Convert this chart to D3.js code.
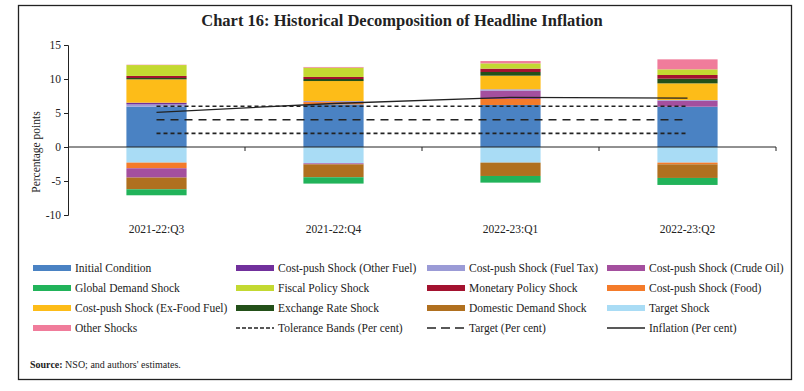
<!DOCTYPE html>
<html>
  <head>
    <meta charset="UTF-8" />
    <title>Chart 16</title>
    <style>
      body { margin: 0; background: #fff; }
      text { font-family: "Liberation Serif", serif; fill: #222; }
    </style>
    <script src="https://d3js.org/d3.v7.min.js"></script>
  </head>
  <body>
    <svg id="viz" width="804" height="391"></svg>
    <script>
      // quarters on the x axis
      var quarters = ["2021-22:Q3", "2021-22:Q4", "2022-23:Q1", "2022-23:Q2"];

      // shock contributions (percentage points)
      var initialCondition = [5.93, 6.27, 6.18, 5.93];
      var targetShock = [-2.3, -2.4, -2.3, -2.3];
      var foodShock = [-0.83, 0.34, 0.88, -0.25];
      var crudeOilShock = [-1.37, -0.15, 1.23, 0.88];
      var fuelTaxShock = [0.34, 0.15, 0.2, 0.1];
      var otherFuelShock = [0.25, 0, 0, 0];
      var domesticDemandShock = [-1.72, -1.9, -1.96, -2.0];
      var globalDemandShock = [-0.88, -0.93, -0.98, -1.03];
      var exFoodFuelShock = [3.43, 2.94, 2.0, 2.45];
      var exchangeRateShock = [0.2, 0.3, 0.54, 0.69];
      var monetaryPolicyShock = [0.3, 0.3, 0.49, 0.54];
      var fiscalPolicyShock = [1.6, 1.37, 0.78, 0.83];
      var otherShocks = [0.05, 0.1, 0.34, 1.47];

      // lines
      var inflation = [5.1, 6.4, 7.3, 7.2];
      var target = [4, 4, 4, 4];
      var upperBand = [6, 6, 6, 6];
      var lowerBand = [2, 2, 2, 2];

      var yTicks = [-10, -5, 0, 5, 10, 15];

      // name, values, colour (legend order)
      var series = [
        ["Initial Condition", initialCondition, "#4a82c3"],
        ["Cost-push Shock (Other Fuel)", otherFuelShock, "#71309c"],
        ["Cost-push Shock (Fuel Tax)", fuelTaxShock, "#9b9bd6"],
        ["Cost-push Shock (Crude Oil)", crudeOilShock, "#a44f9e"],
        ["Global Demand Shock", globalDemandShock, "#21b35a"],
        ["Fiscal Policy Shock", fiscalPolicyShock, "#c3d931"],
        ["Monetary Policy Shock", monetaryPolicyShock, "#a3122f"],
        ["Cost-push Shock (Food)", foodShock, "#f47b2a"],
        ["Cost-push Shock (Ex-Food Fuel)", exFoodFuelShock, "#fdbc18"],
        ["Exchange Rate Shock", exchangeRateShock, "#235019"],
        ["Domestic Demand Shock", domesticDemandShock, "#b0701f"],
        ["Target Shock", targetShock, "#a9dcf5"],
        ["Other Shocks", otherShocks, "#f07c9b"]
      ];

      // order in which the pieces are piled in the bars
      var stackOrder = [
        "Initial Condition", "Target Shock", "Cost-push Shock (Food)",
        "Cost-push Shock (Crude Oil)", "Cost-push Shock (Fuel Tax)",
        "Cost-push Shock (Other Fuel)", "Domestic Demand Shock",
        "Global Demand Shock", "Cost-push Shock (Ex-Food Fuel)",
        "Exchange Rate Shock", "Monetary Policy Shock",
        "Fiscal Policy Shock", "Other Shocks"
      ];

      var svg = d3.select("#viz");
      var plotLeft = 68, plotRight = 776, plotTop = 45, plotBottom = 215;

      var color = {};
      var values = {};
      series.forEach(function (s) { values[s[0]] = s[1]; color[s[0]] = s[2]; });

      var rows = quarters.map(function (q, i) {
        var r = { quarter: q };
        stackOrder.forEach(function (k) { r[k] = values[k][i]; });
        return r;
      });

      var stacked = d3.stack().keys(stackOrder).offset(d3.stackOffsetDiverging)(rows);

      var x = d3.scaleBand().domain(quarters).range([plotLeft, plotRight])
        .paddingInner(0.66).paddingOuter(0.33);
      var y = d3.scaleLinear().domain([-10, 15]).range([plotBottom, plotTop]);

      // frame
      svg.append("rect").attr("x", 18.5).attr("y", 5.5).attr("width", 773).attr("height", 374)
        .attr("fill", "none").attr("stroke", "#222").attr("stroke-width", 1.3);

      svg.append("text").attr("x", 402).attr("y", 26).attr("text-anchor", "middle")
        .style("font-size", "16.5px").style("font-weight", "bold")
        .text("Chart 16: Historical Decomposition of Headline Inflation");

      // bars
      svg.append("g").selectAll("g").data(stacked).join("g")
        .attr("fill", function (d) { return color[d.key]; })
        .selectAll("rect").data(function (d) { return d; }).join("rect")
        .attr("x", function (d) { return x(d.data.quarter); })
        .attr("width", x.bandwidth())
        .attr("y", function (d) { return y(Math.max(d[0], d[1])); })
        .attr("height", function (d) { return Math.abs(y(d[0]) - y(d[1])); });

      // y axis
      var yAxis = svg.append("g").attr("transform", "translate(" + plotLeft + ",0)")
        .call(d3.axisLeft(y).tickValues(yTicks).tickSize(4).tickPadding(3)
          .tickFormat(function (d) { return String(d); }));
      yAxis.selectAll("path, line").attr("stroke", "#222");
      yAxis.selectAll("text").style("font-size", "11.5px").style("font-family", "Liberation Serif").attr("fill", "#222");

      // x axis line at zero with ticks between quarters
      svg.append("line").attr("x1", plotLeft).attr("x2", plotRight).attr("y1", y(0)).attr("y2", y(0))
        .attr("stroke", "#222");
      var step = x.step();
      svg.append("g").selectAll("line").data(d3.range(1, quarters.length + 1)).join("line")
        .attr("x1", function (i) { return plotLeft + i * step; })
        .attr("x2", function (i) { return plotLeft + i * step; })
        .attr("y1", y(0)).attr("y2", y(0) + 4).attr("stroke", "#222");

      svg.append("g").selectAll("text").data(quarters).join("text")
        .attr("x", function (q) { return x(q) + x.bandwidth() / 2; })
        .attr("y", 233).attr("text-anchor", "middle").style("font-size", "11.5px")
        .text(function (q) { return q; });

      svg.append("text").attr("transform", "translate(40,152) rotate(-90)")
        .attr("text-anchor", "middle").style("font-size", "11.5px").text("Percentage points");

      // lines
      var line = d3.line()
        .x(function (d, i) { return x(quarters[i]) + x.bandwidth() / 2; })
        .y(function (d) { return y(d); });
      svg.append("path").attr("d", line(upperBand)).attr("fill", "none")
        .attr("stroke", "#222").attr("stroke-width", 1.6).attr("stroke-dasharray", "4,3");
      svg.append("path").attr("d", line(lowerBand)).attr("fill", "none")
        .attr("stroke", "#222").attr("stroke-width", 1.6).attr("stroke-dasharray", "4,3");
      svg.append("path").attr("d", line(target)).attr("fill", "none")
        .attr("stroke", "#222").attr("stroke-width", 1.6).attr("stroke-dasharray", "8,6");
      svg.append("path").attr("d", line(inflation)).attr("fill", "none")
        .attr("stroke", "#222").attr("stroke-width", 1.3);

      // legend
      var colX = [33, 236, 427, 607];
      var rowY = [268, 288, 308, 328];
      var legendItems = series.map(function (s) { return { name: s[0], type: "bar", color: s[2] }; });
      legendItems.push({ name: "Tolerance Bands (Per cent)", type: "line", dash: "4,2" });
      legendItems.push({ name: "Target (Per cent)", type: "line", dash: "9,5" });
      legendItems.push({ name: "Inflation (Per cent)", type: "line", dash: null });

      var lg = svg.append("g").selectAll("g").data(legendItems).join("g")
        .attr("transform", function (d, i) {
          return "translate(" + colX[i % 4] + "," + rowY[Math.floor(i / 4)] + ")";
        });
      lg.filter(function (d) { return d.type === "bar"; }).append("rect")
        .attr("x", 0).attr("y", -3).attr("width", 38).attr("height", 6)
        .attr("fill", function (d) { return d.color; });
      lg.filter(function (d) { return d.type === "line"; }).append("line")
        .attr("x1", 0).attr("x2", 38).attr("y1", 0).attr("y2", 0)
        .attr("stroke", "#222").attr("stroke-width", 1.6)
        .attr("stroke-dasharray", function (d) { return d.dash; });
      lg.append("text").attr("x", 42).attr("y", 4).style("font-size", "11.5px")
        .text(function (d) { return d.name; });

      var src = svg.append("text").attr("x", 30).attr("y", 368).style("font-size", "10px");
      src.append("tspan").style("font-weight", "bold").text("Source:");
      src.append("tspan").text(" NSO; and authors' estimates.");
    </script>
  </body>
</html>
